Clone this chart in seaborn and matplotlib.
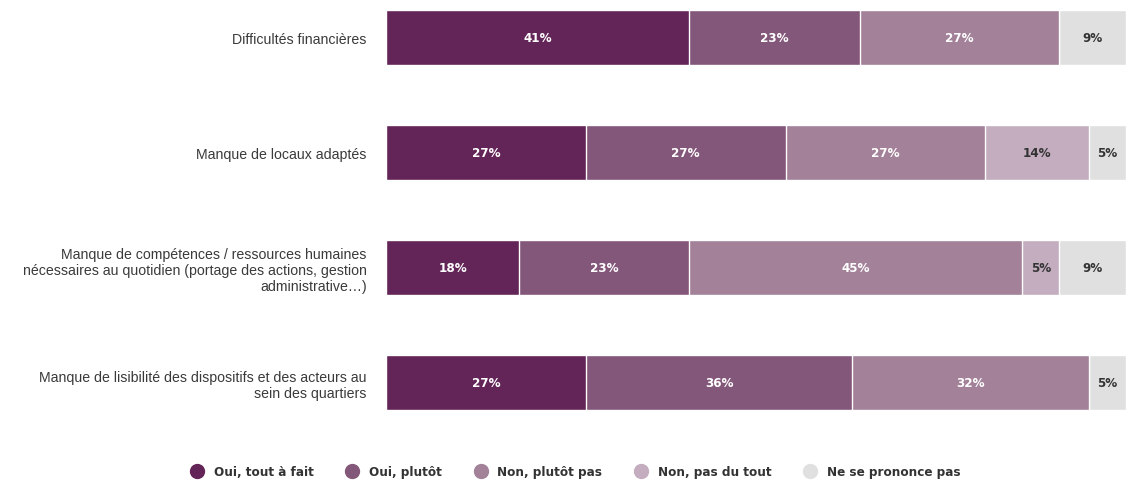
import numpy as np
import pandas as pd
import matplotlib
matplotlib.use("Agg")
import matplotlib.pyplot as plt
from matplotlib.lines import Line2D
from matplotlib import font_manager
import seaborn as sns

categories = [
    "Difficultés financières",
    "Manque de locaux adaptés",
    "Manque de compétences / ressources humaines\nnécessaires au quotidien (portage des actions, gestion\nadministrative…)",
    "Manque de lisibilité des dispositifs et des acteurs au\nsein des quartiers",
]
series = ["Oui, tout à fait", "Oui, plutôt", "Non, plutôt pas", "Non, pas du tout", "Ne se prononce pas"]
oui_tout_a_fait = [41, 27, 18, 27]
oui_plutot = [23, 27, 23, 36]
non_plutot_pas = [27, 27, 45, 32]
non_pas_du_tout = [0, 14, 5, 0]
ne_se_prononce_pas = [9, 5, 9, 5]

colors = ["#632457", "#835779", "#a28199", "#c3adbf", "#e0e0e0"]
label_colors = ["white", "white", "white", "#333333", "#333333"]

values = np.array([oui_tout_a_fait, oui_plutot, non_plutot_pas, non_pas_du_tout, ne_se_prononce_pas], dtype=float)
cum = values.cumsum(axis=0)

sns.set_theme(style="white")
plt.rcParams["font.family"] = ["Liberation Sans", "DejaVu Sans"]

W, H = 1126, 481
fig = plt.figure(figsize=(W / 100, H / 100), dpi=100)
ax = fig.add_axes([386 / W, 41 / H, 1 - 386 / W, 440 / H])

# stacked bars: draw cumulative totals from the outermost segment inwards
for i in range(len(series) - 1, -1, -1):
    df = pd.DataFrame({"cat": categories, "val": cum[i]})
    sns.barplot(data=df, x="val", y="cat", orient="h", color=colors[i],
                saturation=1, width=0.48, edgecolor="white", linewidth=1, ax=ax)

ax.set_xlim(0, 100)
ax.set_ylim(3.496, -0.339)
ax.set_xlabel("")
ax.set_ylabel("")
ax.set_xticks([])
for s in ax.spines.values():
    s.set_visible(False)
ax.tick_params(axis="y", length=0, pad=14, labelsize=10.2, labelcolor="#3a3a3a")
for t in ax.get_yticklabels():
    t.set_horizontalalignment("right")
    t.set_multialignment("right")
    t.set_linespacing(1.2)

cond = font_manager.FontProperties(family="DejaVu Sans", stretch="condensed", weight="bold", size=9.5)
for i in range(len(series)):
    for j in range(len(categories)):
        v = values[i, j]
        if v <= 0:
            continue
        xc = cum[i, j] - v / 2
        ax.text(xc, j, f"{int(v)}%", ha="center", va="center", color=label_colors[i],
                fontproperties=cond)

handles = [Line2D([0], [0], marker="o", linestyle="", markersize=10,
                  markerfacecolor=c, markeredgecolor=c) for c in colors]
leg_font = font_manager.FontProperties(family="DejaVu Sans", stretch="condensed", weight="bold", size=9.6)
fig.legend(handles, series, loc="center", bbox_to_anchor=(572 / W, 1 - 473 / H), ncol=5,
           frameon=False, handletextpad=0.25, columnspacing=1.9,
           prop=leg_font, labelcolor="#333333")

fig.savefig("out.png", dpi=100)
